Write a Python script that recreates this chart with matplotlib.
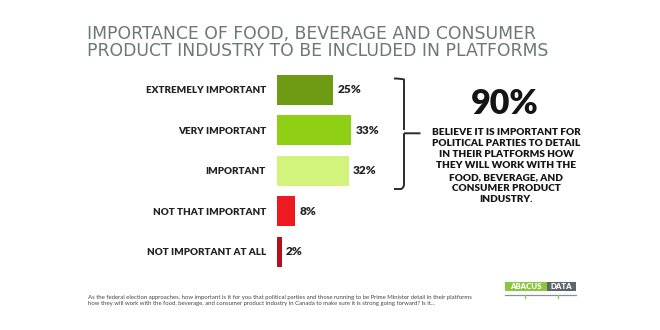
import matplotlib
matplotlib.use("Agg")
import matplotlib.pyplot as plt
from matplotlib.patches import Rectangle
from matplotlib.path import Path
from matplotlib.patches import PathPatch

plt.rcParams["font.family"] = ["Lato", "DejaVu Sans"]

categories = ["EXTREMELY IMPORTANT", "VERY IMPORTANT", "IMPORTANT",
              "NOT THAT IMPORTANT", "NOT IMPORTANT AT ALL"]
shares = [25, 33, 32, 8, 2]
bar_colors = ["#6f9a14", "#8fd014", "#d2f47c", "#ef1a1f", "#b3101c"]
important_total = 90

title_lines = ["IMPORTANCE OF FOOD, BEVERAGE AND CONSUMER",
               "PRODUCT INDUSTRY TO BE INCLUDED IN PLATFORMS"]
callout = ("BELIEVE IT IS IMPORTANT FOR\nPOLITICAL PARTIES TO DETAIL\n"
           "IN THEIR PLATFORMS HOW\nTHEY WILL WORK WITH THE\n"
           "FOOD, BEVERAGE, AND\nCONSUMER PRODUCT\nINDUSTRY.")
question = ("As the federal election approaches, how important is it for you that "
            "political parties and those running to be Prime Minister detail in their platforms\n"
            "how they will work with the food, beverage, and consumer product industry "
            "in Canada to make sure it is strong going forward? Is it...")

W, H = 660, 330
fig = plt.figure(figsize=(W / 100, H / 100), dpi=100)
fig.patch.set_facecolor("white")

# overlay in pixel units for title, bracket, notes and logo
ov = fig.add_axes([0, 0, 1, 1])
ov.set_xlim(0, W)
ov.set_ylim(H, 0)
ov.axis("off")

# bar panel: 0% at x=277px, ~2.25px per percent
left_px, top_px, bot_px = 277, 69.5, 272
ax = fig.add_axes([left_px / W, 1 - bot_px / H, 40 * 2.25 / W, (bot_px - top_px) / H])
ypos = list(range(len(categories)))
ax.barh(ypos, shares, height=0.73, color=bar_colors, zorder=2)
ax.set_xlim(0, 40)
ax.set_ylim(len(categories) - 0.5, -0.5)
ax.set_yticks(ypos)
ax.set_yticklabels(categories, fontsize=7.1, fontweight="heavy", color="#222222")
ax.tick_params(axis="y", length=0, pad=8)
ax.set_xticks([])
for s in ax.spines.values():
    s.set_visible(False)
ax.patch.set_alpha(0)
for y, v in zip(ypos, shares):
    ax.annotate(f"{v}%", (v, y), xytext=(3, 0), textcoords="offset points",
                ha="left", va="center", fontsize=8.6, fontweight="heavy",
                color="#222222")

for base, line in zip([39, 55.5], title_lines):
    ov.text(87, base, line, fontsize=12.4, color="#6b7876", ha="left",
            va="baseline", family=["DejaVu Sans"])

# bracket grouping the three "important" answers
verts = [(394, 78.5), (401, 78.5), (404, 79.5), (404, 83),
         (404, 130), (404, 133.3), (420.5, 133.3),
         (404, 133.3), (404, 136.5),
         (404, 184.5), (404, 188), (401, 189), (394, 189)]
codes = [Path.MOVETO, Path.CURVE3, Path.CURVE3, Path.LINETO,
         Path.LINETO, Path.MOVETO, Path.LINETO,
         Path.MOVETO, Path.LINETO,
         Path.LINETO, Path.CURVE3, Path.CURVE3, Path.LINETO]
ov.add_patch(PathPatch(Path(verts, codes), fill=False, lw=1.4,
                       edgecolor="#2b2b2b", capstyle="butt"))

ov.text(505, 104, f"{important_total}%", fontsize=24.5, fontweight="heavy",
        color="#151515", ha="center", va="center")
ov.text(506, 166, callout, fontsize=7.2, fontweight="heavy", color="#151515",
        ha="center", va="center", linespacing=1.3)

ov.text(88, 300.5, question, fontsize=4.35, color="#444444", ha="left",
        va="center", linespacing=1.15)

# logo
ov.add_patch(Rectangle((505, 281.5), 42, 9.2, color="#8cc63f", lw=0))
ov.add_patch(Rectangle((547, 281.5), 29, 9.2, color="#5d666b", lw=0))
ov.text(526, 286.3, "ABACUS", fontsize=5.6, fontweight="heavy", color="white",
        ha="center", va="center")
ov.text(561.5, 286.3, "DATA", fontsize=5.6, fontweight="heavy", color="white",
        ha="center", va="center")
ov.plot([505, 576], [295, 295], color="#8a9196", lw=0.9)
ov.plot([525, 525], [295, 297.5], color="#8cc63f", lw=0.9)
ov.plot([558, 558], [295, 297.5], color="#8cc63f", lw=0.9)

fig.savefig("out.png", dpi=100, facecolor="white")
